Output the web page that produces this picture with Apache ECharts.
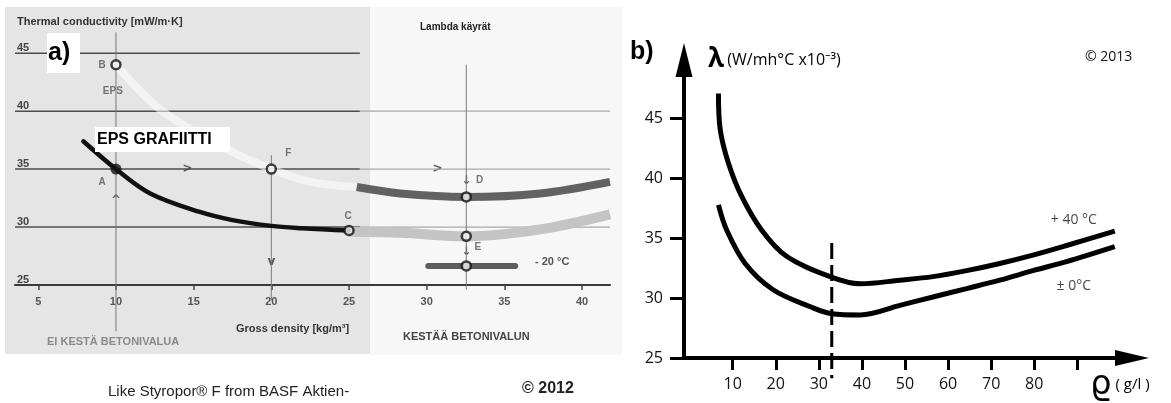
<!DOCTYPE html>
<html>
<head>
<meta charset="utf-8">
<script src="https://cdn.jsdelivr.net/npm/echarts@6/dist/echarts.min.js"></script>
<style>
  html, body { margin: 0; padding: 0; background: #fff; }
  #chart { width: 1171px; height: 403px; }
</style>
</head>
<body>
<div id="chart"></div>
<script>
// ---- panel a) (scanned BASF chart) ----
const aDensityTicks = [5, 10, 15, 20, 25, 30, 35, 40];
const aLambdaTicks = [25, 30, 35, 40, 45];
const grafiitti = [[7.9, 37.4], [10, 35], [12.2, 32.9], [15.4, 31.3], [17.5, 30.6], [20, 30.1], [22, 29.9], [25, 29.7]];
const epsWhite = [[10, 44], [13, 40], [17.3, 36.6], [20, 35], [22.5, 33.9], [25.5, 33.45]];
const bandD = [[25.5, 33.45], [28.3, 32.9], [32.55, 32.6], [37.3, 32.9], [41.8, 33.9]];
const bandE = [[25, 29.6], [28.3, 29.5], [32.55, 29.2], [37.3, 29.8], [41.8, 31.1]];
const bandMinus20 = [[30.1, 26.65], [35.7, 26.65]];
const gridLambda = [45, 40, 35, 30];
const gridLeftEnd = [25.7, 25.7, 25.7, 25.7];
const gridRightEnd = [null, 41.8, 41.8, 41.8];
const guideX = [10, 20, 32.55];
const guideTop = [46.8, 36.2, 44];
const guideBottom = [21, 23.7, 24.6];
const filledPts = [[10, 35]];
const openPts = [[10, 44], [20, 35], [25, 29.7], [32.55, 32.6], [32.55, 29.2], [32.55, 26.65]];
const letterText = ['B', 'EPS', 'A', 'F', 'C', 'D', 'E'];
const letterPos = [[9.1, 44], [9.8, 41.75], [9.1, 33.9], [21.1, 36.4], [24.95, 30.95], [33.4, 34.0], [33.3, 28.3]];
const arrowText = ['>', '>', '^', 'v', '↓', '↓'];
const arrowPos = [[14.6, 35], [30.7, 35], [10, 32.3], [20, 27], [32.55, 33.95], [32.55, 27.9]];

// ---- panel b) ----
const bTicksX = [10, 20, 30, 40, 50, 60, 70, 80, 90];
const bLabelsX = [10, 20, 30, 40, 50, 60, 70, 80];
const bTicksY = [25, 30, 35, 40, 45];
const plus40 = [[6.7, 47.1], [7.1, 44.1], [9, 41.3], [12.1, 38.5], [16.7, 35.7], [22.5, 33.5], [32.6, 31.8], [39.6, 31.2], [48.8, 31.5], [56.5, 31.8], [64.3, 32.3], [72, 32.9], [79.7, 33.6], [87.5, 34.4], [98.7, 35.6]];
const zeroC = [[6.7, 37.8], [8.6, 35.7], [12.9, 32.9], [19.4, 30.7], [27.9, 29.3], [33, 28.7], [39.6, 28.6], [48.8, 29.4], [56.5, 30.1], [64.3, 30.8], [72, 31.5], [79.7, 32.3], [87.5, 33.05], [98.7, 34.3]];
const dashLine = [[33, 34.6], [33, 23.3]];
const curveText = ['+ 40 °C', '± 0°C'];
const curvePos = [[89.2, 36.5], [89.2, 31.0]];

const chart = echarts.init(document.getElementById('chart'));

const fontA = '"Liberation Sans", Arial, sans-serif';
const fontB = '"Open Sans", "Noto Sans", sans-serif';

function plainLine(data, color, width, extra) {
  return Object.assign({
    type: 'line',
    xAxisIndex: 0,
    yAxisIndex: 0,
    data: data,
    showSymbol: false,
    symbol: 'none',
    silent: true,
    lineStyle: { color: color, width: width }
  }, extra || {});
}

const series = [];

// horizontal grid lines of a)
gridLambda.forEach((v, i) => {
  series.push(plainLine([[3.5, v], [gridLeftEnd[i], v]], '#4d4d4d', 1.5));
  if (gridRightEnd[i] != null) {
    series.push(plainLine([[gridLeftEnd[i], v], [gridRightEnd[i], v]], '#a8a8a8', 1.2));
  }
});
// thin vertical guides
guideX.forEach((x, i) => {
  series.push(plainLine([[x, guideTop[i]], [x, guideBottom[i]]], '#7a7a7a', 1, { clip: false }));
});
// lambda bands
series.push(plainLine(epsWhite, 'rgba(255,255,255,0.55)', 8, { smooth: 0.35 }));
series.push(plainLine(bandE, '#c4c4c4', 10, { smooth: 0.35 }));
series.push(plainLine(bandD, '#626262', 8, { smooth: 0.35 }));
series.push(plainLine(bandMinus20, '#5c5c5c', 6, { lineStyle: { color: '#5c5c5c', width: 6, cap: 'round' } }));
series.push(plainLine(grafiitti, '#111', 4.5, { smooth: 0.35, lineStyle: { color: '#111', width: 4.5, cap: 'round' } }));
// points
series.push({
  type: 'scatter', xAxisIndex: 0, yAxisIndex: 0, silent: true, z: 5,
  data: openPts, symbolSize: 9,
  itemStyle: { color: '#f4f4f4', borderColor: '#111', borderWidth: 2.5 }
});
series.push({
  type: 'scatter', xAxisIndex: 0, yAxisIndex: 0, silent: true, z: 5,
  data: filledPts, symbolSize: 11,
  itemStyle: { color: '#111' }
});
// letters and small arrows
series.push({
  type: 'scatter', xAxisIndex: 0, yAxisIndex: 0, silent: true, symbolSize: 0,
  data: letterText.map((t, i) => ({ name: t, value: letterPos[i] })),
  label: { show: true, position: 'inside', formatter: '{b}', fontFamily: fontA, fontSize: 10, fontWeight: 'bold', color: '#555' }
});
series.push({
  type: 'scatter', xAxisIndex: 0, yAxisIndex: 0, silent: true, symbolSize: 0,
  data: arrowText.map((t, i) => ({ name: t, value: arrowPos[i] })),
  label: { show: true, position: 'inside', formatter: '{b}', fontFamily: '"DejaVu Sans", sans-serif', fontSize: 12, fontWeight: 'bold', color: '#333' }
});

// panel b series
series.push({
  type: 'line', xAxisIndex: 1, yAxisIndex: 1, data: plus40, smooth: 0.35,
  showSymbol: false, symbol: 'none', silent: true,
  lineStyle: { color: '#000', width: 5 }
});
series.push({
  type: 'line', xAxisIndex: 1, yAxisIndex: 1, data: zeroC, smooth: 0.35,
  showSymbol: false, symbol: 'none', silent: true,
  lineStyle: { color: '#000', width: 5 }
});
series.push({
  type: 'line', xAxisIndex: 1, yAxisIndex: 1, data: dashLine, clip: false,
  showSymbol: false, symbol: 'none', silent: true,
  lineStyle: { color: '#000', width: 3, type: [16, 6] }
});
series.push({
  type: 'scatter', xAxisIndex: 1, yAxisIndex: 1, silent: true, symbolSize: 0,
  data: curveText.map((t, i) => ({ name: t, value: curvePos[i] })),
  label: { show: true, position: 'inside', formatter: '{b}', fontFamily: fontB, fontSize: 14, color: '#111' }
});

const option = {
  backgroundColor: '#ffffff',
  animation: false,
  grid: [
    { left: 15, top: 30, width: 595, height: 255, outerBoundsMode: 'none' },
    { left: 684, top: 60, width: 448, height: 298, outerBoundsMode: 'none' }
  ],
  xAxis: [
    {
      gridIndex: 0, type: 'value', min: 3.5, max: 41.8,
      axisLine: { onZero: false, lineStyle: { color: '#3a3a3a', width: 2 } },
      axisTick: { customValues: aDensityTicks, length: 5, lineStyle: { color: '#444', width: 1.5 } },
      axisLabel: { customValues: aDensityTicks, margin: 11, fontSize: 11, fontWeight: 'bold', color: '#555', fontFamily: fontA },
      splitLine: { show: false }
    },
    {
      gridIndex: 1, type: 'value', min: -1.3, max: 102.7,
      axisLine: { onZero: false, symbol: ['none', 'triangle'], symbolSize: [16, 34], lineStyle: { color: '#000', width: 4 } },
      axisTick: { customValues: bTicksX, length: 12, lineStyle: { color: '#000', width: 3 } },
      axisLabel: { customValues: bLabelsX, margin: 18, fontSize: 16, color: '#111', fontFamily: fontB },
      splitLine: { show: false }
    }
  ],
  yAxis: [
    {
      gridIndex: 0, type: 'value', min: 25, max: 47,
      axisLine: { show: false },
      axisTick: { show: false },
      axisLabel: { customValues: aLambdaTicks, inside: true, margin: 2, align: 'left', verticalAlign: 'bottom', fontSize: 11, fontWeight: 'bold', color: '#444', fontFamily: fontA },
      splitLine: { show: false }
    },
    {
      gridIndex: 1, type: 'value', min: 25, max: 49.9,
      axisLine: { onZero: false, symbol: ['none', 'triangle'], symbolSize: [17, 34], lineStyle: { color: '#000', width: 4 } },
      axisTick: { customValues: bTicksY, length: 14, lineStyle: { color: '#000', width: 3 } },
      axisLabel: { customValues: bTicksY, margin: 21, fontSize: 16, color: '#111', fontFamily: fontB, padding: [0, 0, 9, 0] },
      splitLine: { show: false }
    }
  ],
  graphic: [
    // scanned backgrounds
    { type: 'rect', z: -10, shape: { x: 370, y: 7, width: 252, height: 348 }, style: { fill: '#f7f7f7' }, silent: true },
    { type: 'rect', z: -10, shape: { x: 5, y: 7, width: 365, height: 347 }, style: { fill: '#e5e5e5' }, silent: true },
    // white label boxes
    { type: 'rect', z: 100, shape: { x: 47, y: 33, width: 33, height: 40 }, style: { fill: '#fff' }, silent: true },
    { type: 'text', z: 101, style: { text: 'a)', x: 48, y: 53, verticalAlign: 'middle', font: 'bold 25px ' + fontA, fill: '#000' } },
    { type: 'rect', z: 100, shape: { x: 95, y: 127, width: 135, height: 25 }, style: { fill: '#fff' }, silent: true },
    { type: 'text', z: 101, style: { text: 'EPS GRAFIITTI', x: 97, y: 140, verticalAlign: 'middle', font: 'bold 16px ' + fontA, fill: '#000' } },
    // texts of a)
    { type: 'text', z: 50, style: { text: 'Thermal conductivity [mW/m·K]', x: 17, y: 22, verticalAlign: 'middle', font: 'bold 11px ' + fontA, fill: '#333' } },
    { type: 'text', z: 50, style: { text: 'Lambda käyrät', x: 420, y: 27, verticalAlign: 'middle', font: 'bold 10px ' + fontA, fill: '#222' } },
    { type: 'text', z: 50, style: { text: 'Gross density [kg/m³]', x: 236, y: 329, verticalAlign: 'middle', font: 'bold 11px ' + fontA, fill: '#333' } },
    { type: 'text', z: 50, style: { text: 'EI KESTÄ BETONIVALUA', x: 47, y: 342, verticalAlign: 'middle', font: 'bold 11px ' + fontA, fill: '#8a8a8a' } },
    { type: 'text', z: 50, style: { text: 'KESTÄÄ BETONIVALUN', x: 403, y: 337, verticalAlign: 'middle', font: 'bold 11px ' + fontA, fill: '#444' } },
    { type: 'text', z: 50, style: { text: '- 20 °C', x: 535, y: 262, verticalAlign: 'middle', font: 'bold 11px ' + fontA, fill: '#555' } },
    { type: 'text', z: 50, style: { text: 'Like Styropor® F from BASF Aktien-', x: 108, y: 392, verticalAlign: 'middle', font: '15px ' + fontA, fill: '#222' } },
    { type: 'text', z: 50, style: { text: '© 2012', x: 522, y: 389, verticalAlign: 'middle', font: 'bold 16px ' + fontA, fill: '#222' } },
    // texts of b)
    { type: 'text', z: 50, style: { text: 'b)', x: 630, y: 52, verticalAlign: 'middle', font: 'bold 25px ' + fontA, fill: '#000' } },
    { type: 'text', z: 50, style: {
        text: '{l|λ} {u|(W/mh°C x10⁻³)}', x: 708, y: 60, verticalAlign: 'middle',
        rich: {
          l: { fontSize: 26, fontWeight: 'bold', fontFamily: fontB, fill: '#000' },
          u: { fontSize: 16, fontFamily: fontB, fill: '#000' }
        }
    } },
    { type: 'text', z: 50, style: { text: '© 2013', x: 1085, y: 57, verticalAlign: 'middle', font: '14px ' + fontB, fill: '#111' } },
    { type: 'text', z: 50, style: {
        text: '{r|ϱ}{u| ( g/l )}', x: 1090, y: 385, verticalAlign: 'middle',
        rich: {
          r: { fontSize: 34, fontFamily: '"DejaVu Sans", sans-serif', fill: '#000' },
          u: { fontSize: 15, fontFamily: fontB, fill: '#000' }
        }
    } }
  ],
  series: series
};

chart.setOption(option);
</script>
</body>
</html>
